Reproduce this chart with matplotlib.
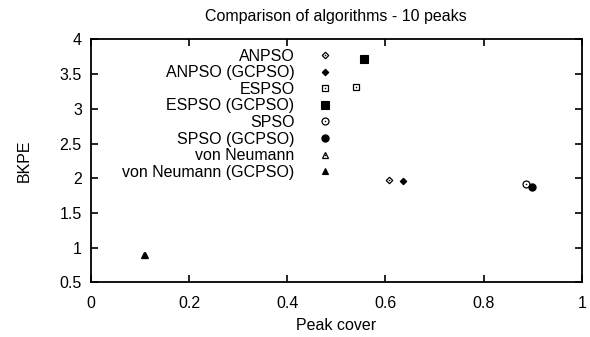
import matplotlib
matplotlib.use("Agg")
import matplotlib.pyplot as plt
from matplotlib.legend_handler import HandlerTuple

plt.rcParams['font.family'] = ['Liberation Sans', 'DejaVu Sans']

labels = ["ANPSO", "ANPSO (GCPSO)", "ESPSO", "ESPSO (GCPSO)", "SPSO", "SPSO (GCPSO)",
          "von Neumann", "von Neumann (GCPSO)"]
peak_cover = [0.607, 0.636, 0.541, 0.556, 0.887, 0.898, 0.108, 0.110]
bkpe = [1.98, 1.96, 3.31, 3.72, 1.92, 1.87, 0.90, 0.90]
markers = ["D", "D", "s", "s", "o", "o", "^", "^"]
filled = [False, True, False, True, False, True, False, True]
msizes = [3.3, 3.3, 4.3, 5.2, 5.0, 5.2, 4.6, 4.6]

xticks = [0, 0.2, 0.4, 0.6, 0.8, 1]
yticks = [0.5, 1, 1.5, 2, 2.5, 3, 3.5, 4]

FS = 11.5

fig = plt.figure(figsize=(5.9, 3.37), dpi=100)
ax = fig.add_axes([0.154, 0.162, 0.832, 0.721])

handles = []
for x, y, m, f, s in zip(peak_cover, bkpe, markers, filled, msizes):
    if f:
        h, = ax.plot([x], [y], linestyle="none", marker=m, markersize=s,
                     markerfacecolor="black", markeredgecolor="black", markeredgewidth=0.8)
        handles.append(h)
    else:
        h1, = ax.plot([x], [y], linestyle="none", marker=m, markersize=s,
                      markerfacecolor="white", markeredgecolor="black", markeredgewidth=0.9)
        h2, = ax.plot([x], [y], linestyle="none", marker="o", markersize=1.1,
                      markerfacecolor="black", markeredgecolor="black", markeredgewidth=0)
        handles.append((h1, h2))

leg = ax.legend(handles, labels, loc="upper right", bbox_to_anchor=(0.519, 1.008),
                markerfirst=False, frameon=False, fontsize=FS, handlelength=1.2,
                handletextpad=1.3, labelspacing=0.1, borderaxespad=0.3,
                handler_map={tuple: HandlerTuple(ndivide=1, pad=0)})

ax.set_xlim(0, 1)
ax.set_ylim(0.5, 4)
ax.set_xticks(xticks)
ax.set_xticklabels([f"{t:g}" for t in xticks])
ax.set_yticks(yticks)
ax.set_yticklabels([f"{t:g}" for t in yticks])
ax.tick_params(direction="in", top=True, right=True, length=5, width=1.2,
               labelsize=FS)
ax.tick_params(axis="x", pad=9.5)
ax.tick_params(axis="y", pad=6.5)
for sp in ax.spines.values():
    sp.set_linewidth(1.3)
ax.set_xlabel("Peak cover", fontsize=FS, labelpad=5)
ax.set_ylabel("BKPE", fontsize=FS, labelpad=20)
ax.set_title("Comparison of algorithms - 10 peaks", fontsize=FS, pad=13)

fig.savefig("out.png", dpi=100)
